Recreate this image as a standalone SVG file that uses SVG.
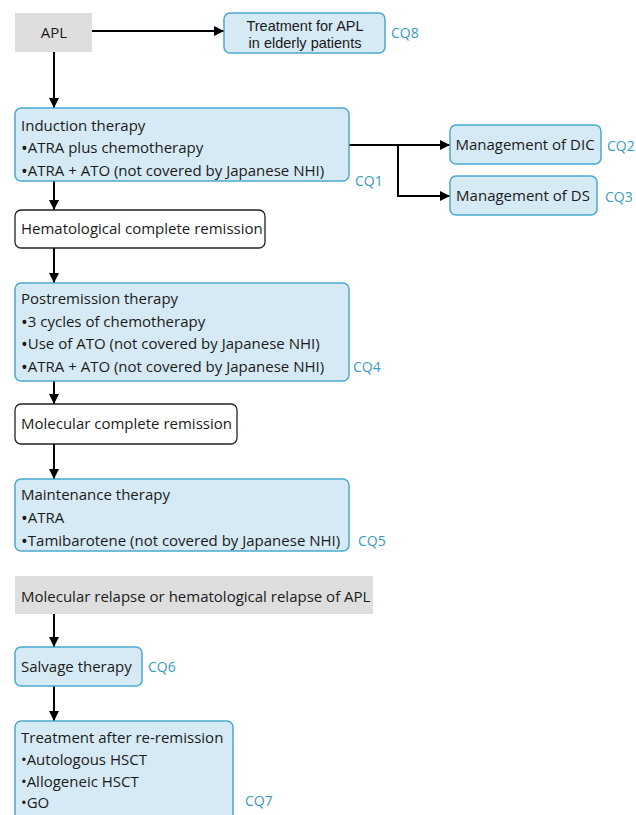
<svg xmlns="http://www.w3.org/2000/svg" width="636" height="815" viewBox="0 0 636 815">
<defs>
<marker id="ah" markerWidth="10" markerHeight="10" refX="10" refY="5" orient="auto" markerUnits="userSpaceOnUse">
<path d="M0,0 L10,5 L0,10 Z" fill="#000"/>
</marker>
<style>
text{font-family:"Open Sans","Liberation Sans",sans-serif;font-size:15px;fill:#1a1a1a}
.cq{fill:#3a9bbf;font-size:14px}
.sm{font-family:"Liberation Sans","Open Sans",sans-serif;font-size:14.5px}
.b{font-size:18px;baseline-shift:-1.5px}
.blue{fill:#d5eaf5;stroke:#4aa9cf;stroke-width:1.5}
.white{fill:#fff;stroke:#222;stroke-width:1.3}
.gray{fill:#dedede}
.c{fill:none;stroke:#000;stroke-width:2}
</style>
</defs>
<rect width="636" height="815" fill="#fff"/>
<g id="connectors">
<path class="c" d="M92,31 H224" marker-end="url(#ah)"/>
<path class="c" d="M54,52 V108" marker-end="url(#ah)"/>
<path class="c" d="M349,145 H450" marker-end="url(#ah)"/>
<path class="c" d="M398,145 V196 H450" marker-end="url(#ah)"/>
<path class="c" d="M54,181 V210" marker-end="url(#ah)"/>
<path class="c" d="M54,248 V283" marker-end="url(#ah)"/>
<path class="c" d="M54,381 V404" marker-end="url(#ah)"/>
<path class="c" d="M54,444 V479" marker-end="url(#ah)"/>
<path class="c" d="M54,614 V647" marker-end="url(#ah)"/>
<path class="c" d="M54,686 V721" marker-end="url(#ah)"/>
</g>
<g id="apl">
<rect class="gray" x="15" y="13" width="77" height="39"/>
<text x="54" y="38" text-anchor="middle">APL</text>
</g>
<g id="elderly">
<rect class="blue" x="224" y="13" width="161" height="40" rx="6"/>
<text class="sm" x="305" y="31" text-anchor="middle">Treatment for APL</text>
<text class="sm" x="305" y="48" text-anchor="middle">in elderly patients</text>
<text class="cq" x="391" y="38">CQ8</text>
</g>
<g id="induction">
<rect class="blue" x="15" y="108" width="334" height="73" rx="6"/>
<text x="21" y="131">Induction therapy</text>
<text x="21" y="153"><tspan class="b">•</tspan>ATRA plus chemotherapy</text>
<text x="21" y="176"><tspan class="b">•</tspan>ATRA + ATO (not covered by Japanese NHI)</text>
<text class="cq" x="355" y="186">CQ1</text>
</g>
<g id="dic">
<rect class="blue" x="450" y="125" width="151" height="39" rx="6"/>
<text x="525" y="150" text-anchor="middle">Management of DIC</text>
<text class="cq" x="607" y="151">CQ2</text>
</g>
<g id="ds">
<rect class="blue" x="450" y="176" width="147" height="39" rx="6"/>
<text x="523" y="201" text-anchor="middle">Management of DS</text>
<text class="cq" x="605" y="202">CQ3</text>
</g>
<g id="hcr">
<rect class="white" x="15" y="210" width="250" height="38" rx="6"/>
<text x="21" y="234">Hematological complete remission</text>
</g>
<g id="postremission">
<rect class="blue" x="15" y="283" width="334" height="98" rx="6"/>
<text x="21" y="304">Postremission therapy</text>
<text x="21" y="327"><tspan class="b">•</tspan>3 cycles of chemotherapy</text>
<text x="21" y="349"><tspan class="b">•</tspan>Use of ATO (not covered by Japanese NHI)</text>
<text x="21" y="372"><tspan class="b">•</tspan>ATRA + ATO (not covered by Japanese NHI)</text>
<text class="cq" x="353" y="372">CQ4</text>
</g>
<g id="mcr">
<rect class="white" x="15" y="404" width="222" height="40" rx="6"/>
<text x="21" y="429">Molecular complete remission</text>
</g>
<g id="maintenance">
<rect class="blue" x="15" y="479" width="334" height="72" rx="6"/>
<text x="21" y="500">Maintenance therapy</text>
<text x="21" y="523"><tspan class="b">•</tspan>ATRA</text>
<text x="21" y="546"><tspan class="b">•</tspan>Tamibarotene (not covered by Japanese NHI)</text>
<text class="cq" x="358" y="546">CQ5</text>
</g>
<g id="relapse">
<rect class="gray" x="15" y="576" width="358" height="38"/>
<text x="21" y="602">Molecular relapse or hematological relapse of APL</text>
</g>
<g id="salvage">
<rect class="blue" x="15" y="647" width="127" height="39" rx="6"/>
<text x="21" y="672">Salvage therapy</text>
<text class="cq" x="148" y="672">CQ6</text>
</g>
<g id="reremission">
<rect class="blue" x="15" y="721" width="218" height="110" rx="6"/>
<text x="21" y="743">Treatment after re-remission</text>
<text x="21" y="765">•Autologous HSCT</text>
<text x="21" y="787">•Allogeneic HSCT</text>
<text x="21" y="808">•GO</text>
<text class="cq" x="245" y="806">CQ7</text>
</g>
</svg>
